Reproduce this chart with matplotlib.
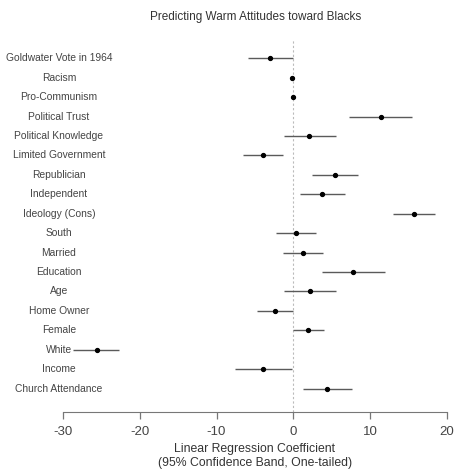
import matplotlib
matplotlib.use("Agg")
import matplotlib.pyplot as plt
import matplotlib.transforms as mtransforms

plt.rcParams["font.family"] = ["Liberation Sans", "DejaVu Sans"]

# ---- data ----
labels = ["Goldwater Vote in 1964", "Racism", "Pro-Communism", "Political Trust",
          "Political Knowledge", "Limited Government", "Republician", "Independent",
          "Ideology (Cons)", "South", "Married", "Education", "Age", "Home Owner",
          "Female", "White", "Income", "Church Attendance"]
coef = [-3.0, -0.2, 0.0, 11.4, 2.1, -3.9, 5.4, 3.8, 15.7, 0.4,
        1.3, 7.8, 2.2, -2.4, 1.9, -25.6, -3.9, 4.4]
lower = [-5.9, -0.2, 0.0, 7.3, -1.2, -6.5, 2.4, 0.9, 13.0, -2.2,
         -1.4, 3.8, -1.2, -4.7, 0.0, -28.7, -7.6, 1.3]
upper = [0.0, -0.2, 0.0, 15.5, 5.5, -1.4, 8.4, 6.7, 18.5, 3.0,
         3.9, 11.9, 5.6, -0.1, 4.0, -22.7, -0.2, 7.6]
xticks = [-30, -20, -10, 0, 10, 20]

fig = plt.figure(figsize=(4.55, 4.73), dpi=100)
ax = fig.add_axes([0.1385, 0.129, 0.8435, 0.786])

ypos = list(range(len(labels)))
ax.axvline(0, color="#bbbbbb", lw=0.8, ls=(0, (2, 2)), zorder=1)
ax.hlines(ypos, lower, upper, color="#5a5a5a", lw=1.0, zorder=2)
ax.plot(coef, ypos, "o", color="black", ms=2.8, zorder=3)

# row labels, centred just left of the axis
trans = mtransforms.blended_transform_factory(ax.transAxes, ax.transData)
for y, lab in zip(ypos, labels):
    ax.text(-0.0105, y, lab, transform=trans, ha="center", va="center",
            fontsize=7.4, color="#444444", clip_on=False)

ax.set_xlim(-30, 20)
ax.set_ylim(18.2, -0.93)
ax.set_xticks(xticks)
ax.set_xticklabels([str(t) for t in xticks])
ax.set_yticks([])
for s in ["top", "left", "right"]:
    ax.spines[s].set_visible(False)
ax.spines["bottom"].set_color("#777777")
ax.spines["bottom"].set_bounds(-30, 20)
ax.tick_params(axis="x", direction="out", length=5, width=0.9, color="#777777",
               labelsize=9.5, labelcolor="#444444", pad=5)
ax.set_xlabel("Linear Regression Coefficient\n(95% Confidence Band, One-tailed)",
              fontsize=8.8, color="#333333", labelpad=4, linespacing=1.2)

fig.text(0.561, 0.964, "Predicting Warm Attitudes toward Blacks", ha="center",
         va="center", fontsize=8.5, color="#333333")

fig.savefig("out.png", dpi=100)
